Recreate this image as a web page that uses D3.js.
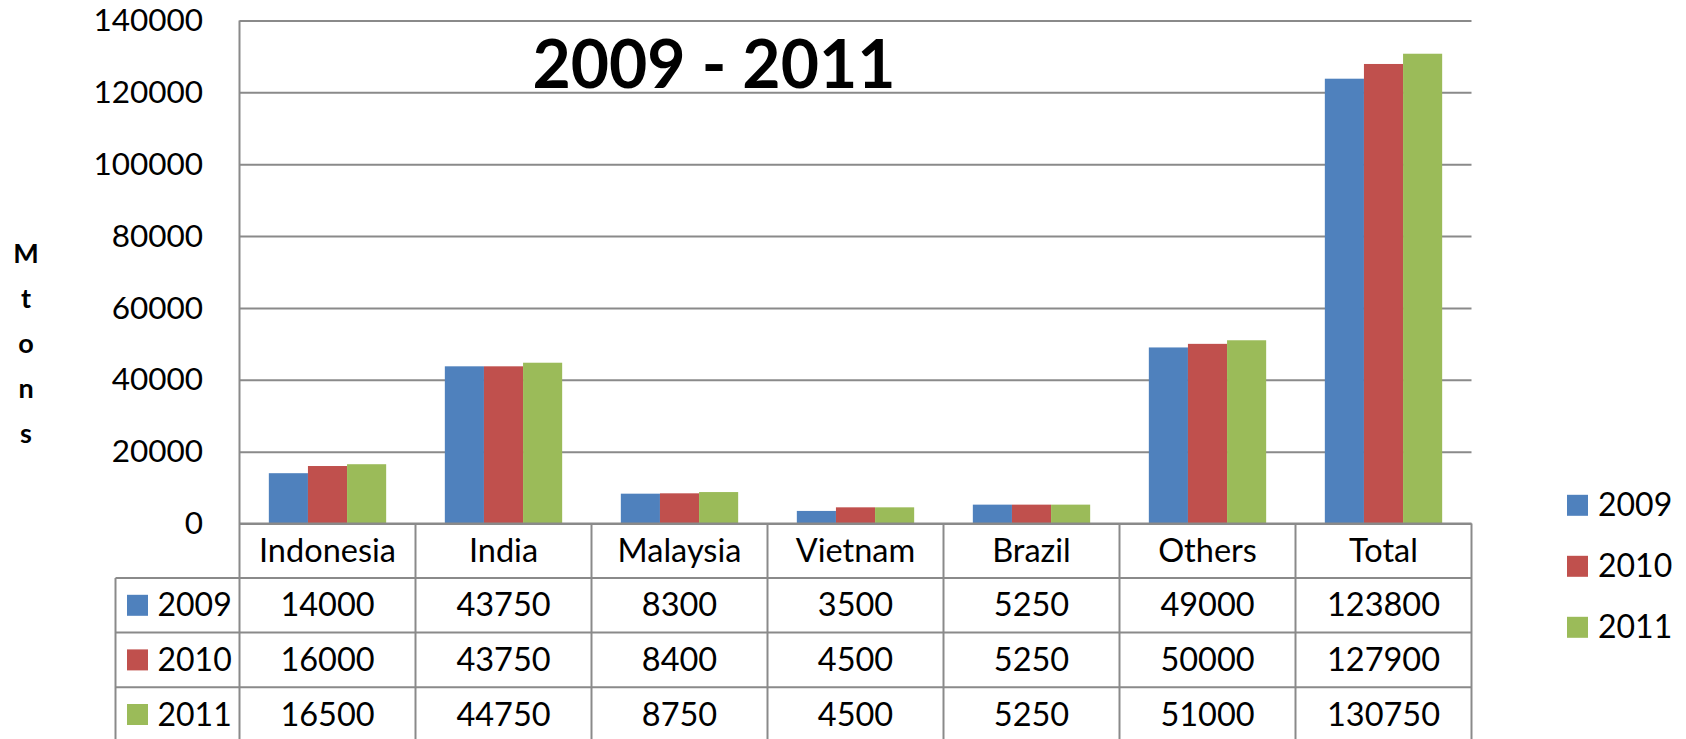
<!DOCTYPE html>
<html>
<head>
<meta charset="utf-8">
<script src="https://cdn.jsdelivr.net/npm/d3@7"></script>
<style>
  html, body { margin: 0; padding: 0; background: #fff; }
  svg { display: block; }
  text { font-family: Lato, "Open Sans", sans-serif; fill: #000; }
</style>
</head>
<body>
<svg id="chart" width="1686" height="739"></svg>
<script>
const categories = ["Indonesia", "India", "Malaysia", "Vietnam", "Brazil", "Others", "Total"];
const years = ["2009", "2010", "2011"];
const values2009 = [14000, 43750, 8300, 3500, 5250, 49000, 123800];
const values2010 = [16000, 43750, 8400, 4500, 5250, 50000, 127900];
const values2011 = [16500, 44750, 8750, 4500, 5250, 51000, 130750];
const yTicks = [0, 20000, 40000, 60000, 80000, 100000, 120000, 140000];
const titleText = "2009 - 2011";
const yAxisTitle = "Mtons";
const colors = ["#4F81BD", "#C0504D", "#9BBB59"];

const seriesValues = [values2009, values2010, values2011];

const W = 1686, H = 739;
const plotLeft = 239.5, plotRight = 1471.5, plotTop = 20.5, plotBottom = 523.5;
const tableLeft = 115.5;
const headerBottom = 578;
const rowH = 54.6;
const gridColor = "#8a8a8a";

const svg = d3.select("#chart");
svg.append("rect").attr("width", W).attr("height", H).attr("fill", "#fff");

const y = d3.scaleLinear().domain([0, 140000]).range([plotBottom, plotTop]);
const x = d3.scaleBand().domain(categories).range([plotLeft, plotRight]).paddingInner(0).paddingOuter(0);
const x1 = d3.scaleBand().domain(years).range([0, x.bandwidth()]).paddingInner(0).paddingOuter(0.75);

// gridlines + y labels
const yAxis = d3.axisLeft(y)
  .tickValues(yTicks)
  .tickSize(-(plotRight - plotLeft))
  .tickPadding(36.5)
  .tickFormat(d3.format("d"));
const gy = svg.append("g").attr("transform", `translate(${plotLeft},0)`).call(yAxis);
gy.select(".domain").remove();
gy.selectAll(".tick line").attr("stroke", gridColor).attr("stroke-width", 2);
gy.selectAll(".tick text").attr("font-size", 31.5).attr("font-family", "Lato").attr("fill", "#000");

// bars
const gBars = svg.append("g");
categories.forEach((c, i) => {
  years.forEach((yr, s) => {
    const v = seriesValues[s][i];
    gBars.append("rect")
      .attr("x", x(c) + x1(yr))
      .attr("y", y(v))
      .attr("width", x1.bandwidth())
      .attr("height", y(0) - y(v))
      .attr("fill", colors[s]);
  });
});

// vertical axis line
svg.append("line")
  .attr("x1", plotLeft).attr("x2", plotLeft)
  .attr("y1", plotTop).attr("y2", H + 5)
  .attr("stroke", gridColor).attr("stroke-width", 2);
// x axis line
svg.append("line")
  .attr("x1", plotLeft).attr("x2", plotRight)
  .attr("y1", plotBottom).attr("y2", plotBottom)
  .attr("stroke", gridColor).attr("stroke-width", 2);

// data table
const gT = svg.append("g");
categories.forEach((c) => {
  const xe = x(c) + x.bandwidth();
  gT.append("line").attr("x1", xe).attr("x2", xe)
    .attr("y1", plotBottom).attr("y2", H + 5)
    .attr("stroke", gridColor).attr("stroke-width", 2);
});
gT.append("line").attr("x1", tableLeft).attr("x2", tableLeft)
  .attr("y1", headerBottom).attr("y2", H + 5)
  .attr("stroke", gridColor).attr("stroke-width", 2);
for (let r = 0; r <= 3; r++) {
  const yy = headerBottom + r * rowH;
  gT.append("line").attr("x1", tableLeft).attr("x2", plotRight)
    .attr("y1", yy).attr("y2", yy)
    .attr("stroke", gridColor).attr("stroke-width", 2);
}
categories.forEach((c) => {
  gT.append("text")
    .attr("x", x(c) + x.bandwidth() / 2)
    .attr("y", (plotBottom + headerBottom) / 2 + 11.5)
    .attr("text-anchor", "middle")
    .attr("font-size", 32.5)
    .text(c);
});
years.forEach((yr, s) => {
  const top = headerBottom + s * rowH;
  const cy = top + rowH / 2;
  gT.append("rect")
    .attr("x", 127).attr("y", cy - 10.5)
    .attr("width", 21).attr("height", 21)
    .attr("fill", colors[s]);
  gT.append("text")
    .attr("x", 157.5).attr("y", cy + 11)
    .attr("font-size", 32)
    .text(yr);
  categories.forEach((c, i) => {
    gT.append("text")
      .attr("x", x(c) + x.bandwidth() / 2)
      .attr("y", cy + 11)
      .attr("text-anchor", "middle")
      .attr("font-size", 32.5)
      .text(seriesValues[s][i]);
  });
});

// legend
const gL = svg.append("g");
years.forEach((yr, s) => {
  const cy = 505.3 + s * 61;
  gL.append("rect").attr("x", 1567).attr("y", cy - 10.5)
    .attr("width", 21).attr("height", 21).attr("fill", colors[s]);
  gL.append("text").attr("x", 1598).attr("y", cy + 11)
    .attr("font-size", 32).text(yr);
});

// title
svg.append("text")
  .attr("x", 714).attr("y", 88.3)
  .attr("text-anchor", "middle")
  .attr("font-size", 66)
  .attr("font-weight", "bold")
  .text(titleText);

// y axis title (stacked letters)
const gYT = svg.append("g");
yAxisTitle.split("").forEach((ch, i) => {
  gYT.append("text")
    .attr("x", 26).attr("y", 263.3 + i * 45)
    .attr("text-anchor", "middle")
    .attr("font-size", 27)
    .attr("font-weight", "bold")
    .text(ch);
});
</script>
</body>
</html>
